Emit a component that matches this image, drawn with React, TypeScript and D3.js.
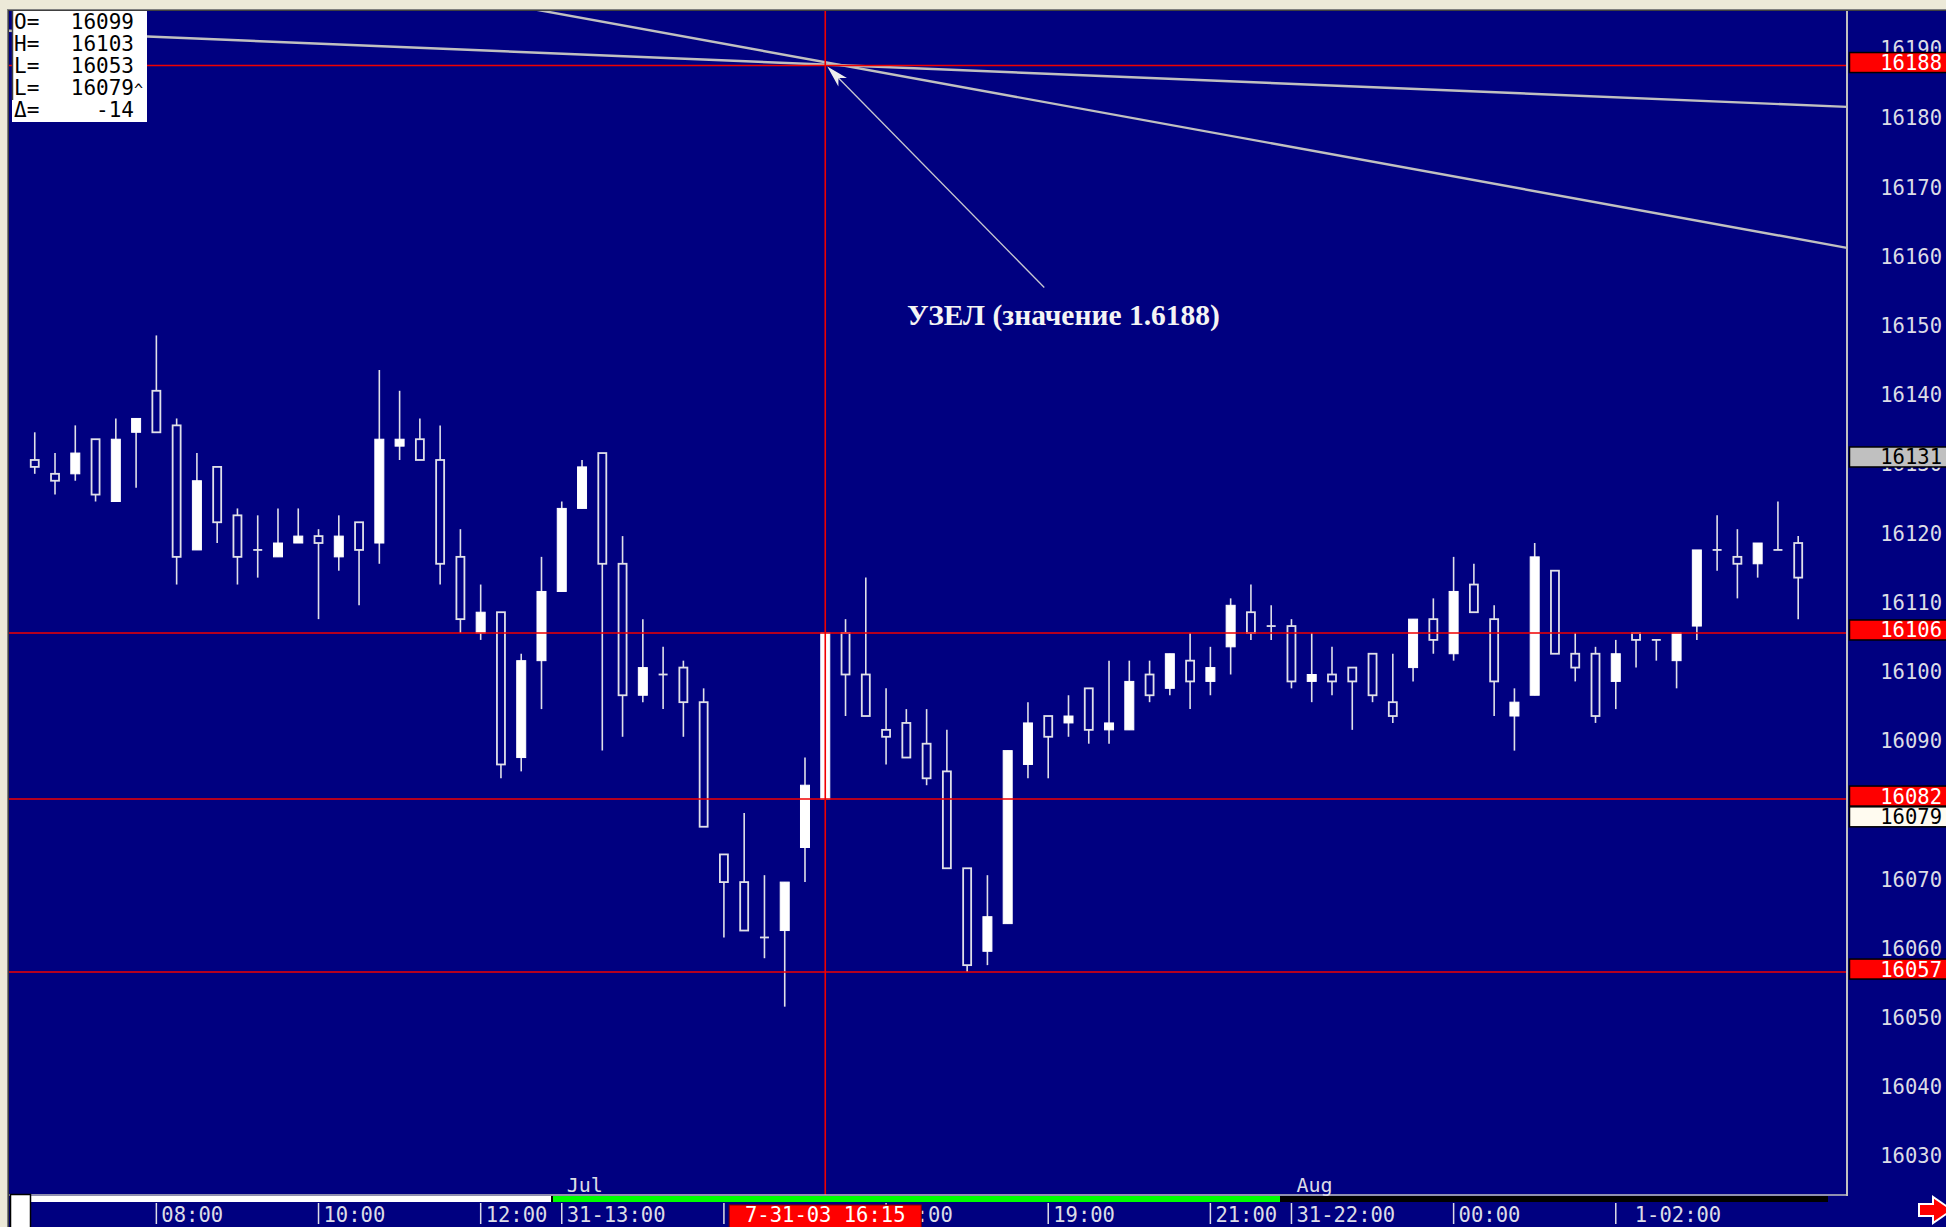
import React, { useEffect } from 'react';
import * as d3 from 'd3';

// ---- data (15-minute bars, 31 Jul 2003 06:30 .. 1 Aug 2003 04:15) ----
const START = '2003-07-31 06:30';
const OPEN = [16131,16129,16129,16134,16125,16135,16141,16136,16118,16130,16123,16118,16117,16119,16120,16117,16122,16119,16133,16134,16131,16117,16106,16109,16088,16102,16112,16124,16132,16116,16097,16100,16101,16096,16074,16070,16062,16063,16075,16082,16106,16100,16092,16093,16090,16086,16072,16060,16064,16087,16094,16093,16098,16092,16092,16100,16098,16102,16099,16104,16109,16107,16107,16099,16100,16101,16103,16096,16101,16108,16103,16113,16108,16094,16097,16115,16103,16103,16099,16106,16105,16102,16107,16118,16117,16116,16118,16119];
const HIGH = [16135,16132,16136,16134,16137,16137,16149,16137,16132,16130,16124,16123,16124,16124,16121,16123,16122,16144,16141,16137,16136,16121,16113,16109,16103,16117,16125,16131,16132,16120,16108,16104,16102,16098,16074,16080,16071,16070,16088,16106,16108,16114,16098,16095,16095,16092,16072,16071,16089,16096,16094,16097,16098,16102,16102,16102,16103,16106,16104,16111,16113,16110,16108,16106,16104,16101,16103,16103,16108,16111,16117,16116,16110,16098,16119,16115,16106,16104,16105,16106,16105,16106,16118,16123,16121,16119,16125,16120];
const LOW = [16129,16126,16128,16125,16125,16127,16135,16113,16118,16119,16113,16114,16117,16119,16108,16115,16110,16116,16131,16131,16113,16106,16105,16085,16086,16095,16112,16124,16089,16091,16096,16095,16091,16078,16062,16063,16059,16052,16070,16082,16094,16094,16087,16088,16084,16072,16057,16058,16064,16085,16085,16091,16090,16090,16092,16096,16097,16095,16097,16100,16105,16105,16098,16096,16097,16092,16096,16093,16099,16103,16102,16109,16094,16089,16097,16103,16099,16093,16095,16101,16102,16098,16105,16115,16111,16114,16118,16108];
const CLOSE = [16130,16128,16132,16126,16134,16137,16135,16117,16128,16122,16117,16118,16119,16120,16119,16120,16118,16134,16134,16131,16116,16108,16109,16087,16102,16112,16124,16130,16116,16097,16101,16100,16096,16078,16070,16063,16062,16070,16084,16106,16100,16094,16091,16088,16085,16072,16058,16065,16089,16093,16091,16094,16092,16093,16099,16097,16103,16099,16101,16110,16106,16107,16099,16100,16099,16099,16097,16094,16108,16105,16112,16109,16099,16096,16117,16103,16101,16094,16103,16105,16105,16106,16118,16118,16116,16119,16118,16114];

const PRICE_TICKS = [16030,16040,16050,16060,16070,16080,16090,16100,16110,16120,16130,16140,16150,16160,16170,16180,16190];
const TIME_TICKS: [string, string, number][] = [
  ['2003-07-31 08:00', '08:00', 0],
  ['2003-07-31 10:00', '10:00', 0],
  ['2003-07-31 12:00', '12:00', 0],
  ['2003-07-31 13:00', '31-13:00', 0],
  ['2003-07-31 15:00', '15:00', 0],
  ['2003-07-31 17:00', '17:00', 0],
  ['2003-07-31 19:00', '19:00', 0],
  ['2003-07-31 21:00', '21:00', 0],
  ['2003-07-31 22:00', '31-22:00', 0],
  ['2003-08-01 00:00', '00:00', 0],
  ['2003-08-01 02:00', '1-02:00', 1],
];
const MONTH_LABELS: [string, string][] = [
  ['2003-07-31 13:00', 'Jul'],
  ['2003-07-31 22:00', 'Aug'],
];
const LEVELS = [16188, 16106, 16082, 16057];
const CURSOR_TIME = '2003-07-31 16:15';
const CURSOR_LABEL = '7-31-03 16:15';
const NODE_VALUE = 16188;
const MARKERS: [number, string][] = [
  [16188, 'red'], [16131, 'grey'], [16106, 'red'], [16082, 'red'], [16079, 'cream'], [16057, 'red'],
];
const TREND_A: [string, number][] = [['2003-07-31 12:00', 16190.2], ['2003-08-01 04:30', 16182.2]];
const TREND_B: [string, number][] = [['2003-07-31 13:00', 16195.4], ['2003-08-01 04:30', 16162.4]];
const INFO_LABELS = ['O=', 'H=', 'L=', 'L=', 'Δ='];
const INFO_VALUES = ['16099', '16103', '16053', '16079', '-14'];
const INFO_SUFFIX = ['', '', '', '^', ''];
const ANNOTATION = 'УЗЕЛ (значение 1.6188)';

const W = 1946;
const H = 1227;
const PL = 9, PT = 11, PR = 1847, PB = 1195;
const NAVY = '#000080';
const BEIGE = '#ECE9D8';
const MONO = '"DejaVu Sans Mono", "Liberation Mono", monospace';
const TXT = '#dcdce6';

export default function App() {
  useEffect(() => {
    document.body.style.margin = '0';
  }, []);

  const parse = d3.timeParse('%Y-%m-%d %H:%M');
  const t0 = parse(START) as Date;
  const times = OPEN.map((_, i) => d3.timeMinute.offset(t0, 15 * i));
  const x = d3.scaleTime().domain([times[0], times[times.length - 1]]).range([34.75, 1798.2]);
  const y = d3.scaleLinear().domain([16030, 16190]).range([1158.9, 51.7]);

  const bw = 9;
  const cursorX = x(parse(CURSOR_TIME) as Date);
  const nodeY = y(NODE_VALUE);

  const extend = (pts: [string, number][]) => {
    const x1 = x(parse(pts[0][0]) as Date), y1 = y(pts[0][1]);
    const x2 = x(parse(pts[1][0]) as Date), y2 = y(pts[1][1]);
    const s = (y2 - y1) / (x2 - x1);
    return [[PL, y1 + (PL - x1) * s], [PR, y1 + (PR - x1) * s]] as [number, number][];
  };
  const line = d3.line<[number, number]>();
  const trendA = line(extend(TREND_A)) as string;
  const trendB = line(extend(TREND_B)) as string;

  // arrow annotation
  const tip: [number, number] = [cursorX + 2, nodeY + 1];
  const tail: [number, number] = [cursorX + 219, nodeY + 222];
  const dx = tail[0] - tip[0], dy = tail[1] - tip[1];
  const len = Math.hypot(dx, dy);
  const ux = dx / len, uy = dy / len;
  const nx = -uy, ny = ux;
  const head = [
    [tip[0], tip[1]],
    [tip[0] + ux * 22 + nx * 6, tip[1] + uy * 22 + ny * 6],
    [tip[0] + ux * 16, tip[1] + uy * 16],
    [tip[0] + ux * 22 - nx * 6, tip[1] + uy * 22 - ny * 6],
  ].map((p) => p.join(',')).join(' ');

  const markerStyle = (k: string) =>
    k === 'red' ? { fill: '#ff0000', text: '#ffffff' } :
    k === 'grey' ? { fill: '#c0c0c0', text: '#000000' } :
    { fill: '#fffbf0', text: '#000000' };

  return (
    <svg width={W} height={H} style={{ position: 'absolute', left: 0, top: 0, display: 'block' }}>
      <defs>
        <clipPath id="plotClip">
          <rect x={PL} y={PT} width={PR - PL} height={PB - PT} />
        </clipPath>
      </defs>
      {/* window chrome */}
      <rect x={0} y={0} width={W} height={H} fill={NAVY} />
      <rect x={0} y={0} width={W} height={9} fill={BEIGE} />
      <rect x={0} y={0} width={7} height={H} fill={BEIGE} />
      <line x1={7} y1={9.5} x2={W} y2={9.5} stroke="#808080" />
      <line x1={7.5} y1={9} x2={7.5} y2={H} stroke="#808080" />
      <line x1={8} y1={10.5} x2={W} y2={10.5} stroke="#404040" />
      <line x1={8.5} y1={10} x2={8.5} y2={H} stroke="#404040" />

      <g clipPath="url(#plotClip)">
        {/* trend lines */}
        <path d={trendA} stroke="#c0c0c0" strokeWidth={2.4} fill="none" />
        <path d={trendB} stroke="#c0c0c0" strokeWidth={2.4} fill="none" />

        {/* candles */}
        {OPEN.map((o, i) => {
          const c = CLOSE[i];
          const cx = x(times[i]);
          const top = y(Math.max(o, c));
          const bot = y(Math.min(o, c));
          const up = c > o;
          return (
            <g key={i}>
              <line x1={cx} x2={cx} y1={y(HIGH[i])} y2={y(LOW[i])} stroke="#e0e0e8" strokeWidth={1.6} />
              {o === c ? (
                <line x1={cx - bw / 2} x2={cx + bw / 2} y1={top} y2={top} stroke="#e0e0e8" strokeWidth={1.8} />
              ) : up ? (
                <rect x={cx - bw / 2} y={top} width={bw} height={bot - top} fill="#ffffff" stroke="#ffffff" strokeWidth={1} />
              ) : (
                <rect x={cx - bw / 2 + 0.5} y={top} width={bw - 1} height={bot - top} fill={NAVY} stroke="#e0e0e8" strokeWidth={1.8} />
              )}
            </g>
          );
        })}

        {/* horizontal levels */}
        {LEVELS.map((v) => (
          <line key={v} x1={PL} x2={PR} y1={y(v)} y2={y(v)} stroke="#f00000" strokeWidth={1.6} />
        ))}
        {/* cursor */}
        <line x1={cursorX} x2={cursorX} y1={PT} y2={PB} stroke="#f00000" strokeWidth={1.6} />

        {/* annotation arrow */}
        <line x1={tip[0] + ux * 16} y1={tip[1] + uy * 16} x2={tail[0]} y2={tail[1]} stroke="#c8c8d0" strokeWidth={1.3} />
        <polygon points={head} fill="#ececec" />
      </g>

      <text x={907} y={325} fill="#f4f4f4" fontFamily='"Liberation Serif", "Times New Roman", serif' fontWeight="bold" fontSize={29.5}>
        {ANNOTATION}
      </text>

      {/* info box */}
      <rect x={12} y={11} width={135} height={111} fill="#ffffff" />
      <line x1={12.5} y1={11} x2={12.5} y2={100} stroke="#404040" strokeWidth={1.5} />
      {INFO_LABELS.map((lab, i) => (
        <g key={i} fontFamily={MONO} fontSize={21} fill="#000000">
          <text x={14} y={29 + i * 22}>{lab}</text>
          <text x={134} y={29 + i * 22} textAnchor="end">{INFO_VALUES[i]}</text>
          {INFO_SUFFIX[i] && <text x={134} y={29 + i * 22} fontSize={15}>{INFO_SUFFIX[i]}</text>}
        </g>
      ))}

      {/* plot frame */}
      <line x1={PR} x2={PR} y1={PT} y2={PB + 1} stroke="#c0c0c0" strokeWidth={2} />
      <line x1={PL} x2={PR} y1={PB} y2={PB} stroke="#c0c0c0" strokeWidth={1.5} />

      {/* price axis */}
      {PRICE_TICKS.map((v) => (
        <text key={v} x={1942} y={y(v) + 4.5} textAnchor="end" fontFamily={MONO} fontSize={20.5} fill={TXT}>
          {v}
        </text>
      ))}
      {MARKERS.map(([v, k]) => {
        const st = markerStyle(k);
        const ly = y(v);
        return (
          <g key={v}>
            <rect x={1849.5} y={ly - 13} width={100} height={20} fill={st.fill} stroke="#000000" strokeWidth={1.5} />
            <text x={1942} y={ly + 4.5} textAnchor="end" fontFamily={MONO} fontSize={20.5} fill={st.text}>
              {v}
            </text>
          </g>
        );
      })}

      {/* scroll bar */}
      <rect x={31} y={1196} width={520} height={6} fill="#ffffff" />
      <rect x={551} y={1196} width={2} height={6} fill="#000000" />
      <rect x={553} y={1196} width={727} height={6} fill="#00ff00" />
      <rect x={1280} y={1196} width={548} height={6} fill="#000000" />
      <rect x={10.5} y={1194.5} width={20} height={34} fill="#ffffff" stroke="#000000" strokeWidth={1.5} />

      {/* month labels */}
      {MONTH_LABELS.map(([t, lab]) => (
        <text key={lab} x={x(parse(t) as Date) + 5} y={1192} fontFamily={MONO} fontSize={20} fill={TXT}>
          {lab}
        </text>
      ))}

      {/* time axis */}
      {TIME_TICKS.map(([t, lab, pad]) => {
        const tx = x(parse(t) as Date);
        return (
          <g key={t}>
            <line x1={tx} x2={tx} y1={1203} y2={1224} stroke={TXT} strokeWidth={1.5} />
            <text x={tx + 5 + pad * 14} y={1222} fontFamily={MONO} fontSize={20.5} fill={TXT}>
              {lab}
            </text>
          </g>
        );
      })}

      {/* cursor time label */}
      <rect x={cursorX - 96} y={1205} width={192} height={24} fill="#ff0000" stroke="#800000" strokeWidth={1} />
      <text x={cursorX} y={1222} textAnchor="middle" fontFamily={MONO} fontSize={20.5} fill="#ffffff">
        {CURSOR_LABEL}
      </text>

      {/* corner arrow icon */}
      <polygon
        points="1919,1204 1933,1204 1933,1197 1952,1210 1933,1223 1933,1216 1919,1216"
        fill="#ff0000"
        stroke="#ffffff"
        strokeWidth={2}
      />
    </svg>
  );
}
